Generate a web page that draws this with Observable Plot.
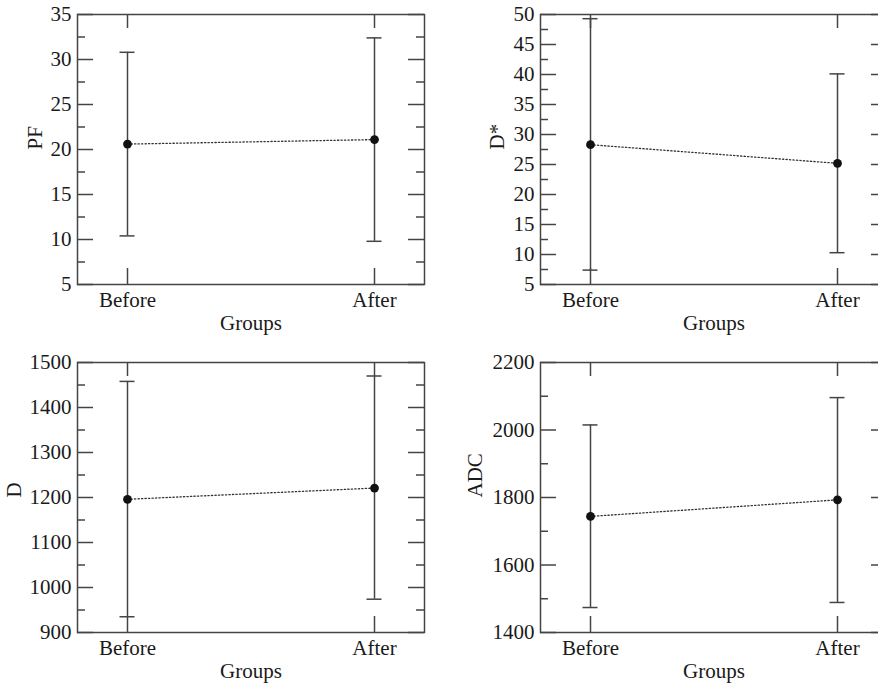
<!DOCTYPE html>
<html><head><meta charset="utf-8">
<script src="https://cdn.jsdelivr.net/npm/d3@7"></script>
<script src="https://cdn.jsdelivr.net/npm/@observablehq/plot@0.6"></script>
<style>
html,body{margin:0;padding:0;background:#fff;overflow:hidden;}
#wrap{position:relative;width:878px;height:686px;overflow:hidden;background:#fff;}
.panel{position:absolute;}
.panel svg{max-width:none !important;display:block;}
</style></head><body><div id="wrap"></div>
<script>
// ---- data ----
const groups = ["Before", "After"];
const xTitle = "Groups";

const pfMean = [20.6, 21.1];
const pfLow = [10.4, 9.8];
const pfHigh = [30.8, 32.4];
const pfMajor = [5, 10, 15, 20, 25, 30, 35];
const pfMinor = [7.5, 12.5, 17.5, 22.5, 27.5, 32.5];

const dsMean = [28.3, 25.2];
const dsLow = [7.4, 10.3];
const dsHigh = [49.3, 40.1];
const dsMajor = [5, 10, 15, 20, 25, 30, 35, 40, 45, 50];
const dsMinor = [7.5, 12.5, 17.5, 22.5, 27.5, 32.5, 37.5, 42.5, 47.5];

const dMean = [1196, 1221];
const dLow = [935, 974];
const dHigh = [1458, 1470];
const dMajor = [900, 1000, 1100, 1200, 1300, 1400, 1500];
const dMinor = [950, 1050, 1150, 1250, 1350, 1450];

const adcMean = [1744, 1793];
const adcLow = [1474, 1489];
const adcHigh = [2015, 2096];
const adcMajor = [1400, 1600, 1800, 2000, 2200];
const adcMinor = [1500, 1700, 1900, 2100];

// ---- layout ----
const FW = 347, FH = 270;
const panels = [
  {label: "PF", mean: pfMean, low: pfLow, high: pfHigh, domain: [5, 35], major: pfMajor, minor: pfMinor,
   left: 0, top: 0, ml: 77, mt: 14, mb: 56, mr: 15, labelDx: -42},
  {label: "D*", mean: dsMean, low: dsLow, high: dsHigh, domain: [5, 50], major: dsMajor, minor: dsMinor,
   left: 440, top: 0, ml: 100, mt: 14, mb: 56, mr: 10, labelDx: -43},
  {label: "D", mean: dMean, low: dLow, high: dHigh, domain: [900, 1500], major: dMajor, minor: dMinor,
   left: 0, top: 340, ml: 77, mt: 22, mb: 54, mr: 15, labelDx: -63},
  {label: "ADC", mean: adcMean, low: adcLow, high: adcHigh, domain: [1400, 2200], major: adcMajor, minor: adcMinor,
   left: 440, top: 340, ml: 100, mt: 22, mb: 54, mr: 10, labelDx: -65}
];

const INK = "#444";
const wrap = document.getElementById("wrap");

for (const p of panels) {
  const rows = groups.map((g, i) => ({group: g, mean: p.mean[i], low: p.low[i], high: p.high[i]}));
  const chart = Plot.plot({
    width: p.ml + FW + p.mr,
    height: p.mt + FH + p.mb,
    marginLeft: p.ml, marginRight: p.mr, marginTop: p.mt, marginBottom: p.mb,
    style: {fontFamily: "'Liberation Serif', 'DejaVu Serif', serif", fontSize: "21px", color: "#1a1a1a", background: "white"},
    x: {type: "point", domain: groups, padding: 0.202},
    y: {domain: p.domain},
    marks: [
      // inward tick marks on all four sides
      Plot.ruleY(p.major, {stroke: INK, strokeWidth: 1.5, insetRight: FW - 16}),
      Plot.ruleY(p.minor, {stroke: INK, strokeWidth: 1.5, insetRight: FW - 8}),
      Plot.ruleY(p.major, {stroke: INK, strokeWidth: 1.5, insetLeft: FW - 16}),
      Plot.ruleY(p.minor, {stroke: INK, strokeWidth: 1.5, insetLeft: FW - 8}),
      Plot.ruleX(groups, {stroke: INK, strokeWidth: 1.5, insetTop: FH - 16}),
      Plot.ruleX(groups, {stroke: INK, strokeWidth: 1.5, insetBottom: FH - 14}),
      Plot.axisY({ticks: p.major, tickFormat: d => String(d), tickSize: 0, tickPadding: 6, label: null}),
      Plot.axisX({tickSize: 0, tickPadding: 8, label: null}),
      Plot.text([xTitle], {frameAnchor: "bottom", dy: 45, lineAnchor: "bottom", fontSize: 21}),
      Plot.text([p.label], {frameAnchor: "left", dx: p.labelDx, rotate: -90, fontSize: 21}),
      // error bars
      Plot.ruleX(rows, {x: "group", y1: "low", y2: "high", stroke: INK, strokeWidth: 1.5}),
      Plot.ruleY(rows, {y: "high", x1: "group", x2: "group", insetLeft: -7.5, insetRight: -7.5, stroke: INK, strokeWidth: 1.5}),
      Plot.ruleY(rows, {y: "low", x1: "group", x2: "group", insetLeft: -7.5, insetRight: -7.5, stroke: INK, strokeWidth: 1.5}),
      // dotted connector and means
      Plot.line(rows, {x: "group", y: "mean", stroke: "#333", strokeWidth: 1.3, strokeDasharray: "1.3,2.2"}),
      Plot.dot(rows, {x: "group", y: "mean", r: 4.4, fill: "#111", stroke: "none"}),
      Plot.frame({stroke: INK, strokeWidth: 1.5})
    ]
  });
  const div = document.createElement("div");
  div.className = "panel";
  div.style.left = p.left + "px";
  div.style.top = p.top + "px";
  div.appendChild(chart);
  wrap.appendChild(div);
}
</script>
</body></html>
